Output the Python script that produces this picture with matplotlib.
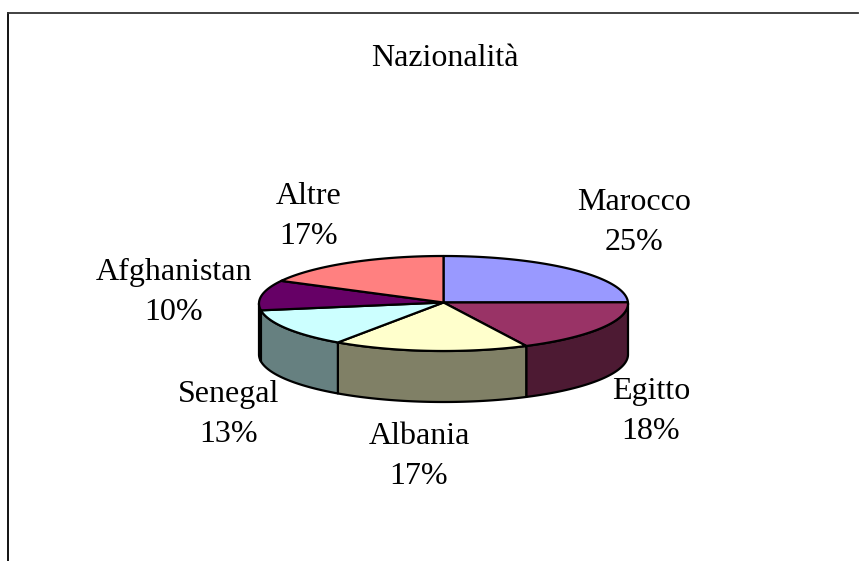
import matplotlib
matplotlib.use('Agg')
import matplotlib.pyplot as plt
from matplotlib.patches import Polygon
import numpy as np

plt.rcParams['font.family'] = ['Liberation Serif', 'DejaVu Serif']

# Data
labels = ['Marocco', 'Egitto', 'Albania', 'Senegal', 'Afghanistan', 'Altre']
values = [24.6, 18.0, 17.1, 13.0, 10.2, 17.1]
top_colors = ['#9999FF', '#993366', '#FFFFCC', '#CCFFFF', '#660066', '#FF8080']
side_colors = ['#4D4D80', '#4D1A33', '#808066', '#668080', '#330033', '#804040']
label_pos = [(634, 222), (651, 411), (419, 456), (229, 414), (174, 292), (309, 216)]

W, H = 867, 561
CX, CY = 443.5, 303.5
RX, RY = 184.5, 47.5
DEPTH = 51

fig = plt.figure(figsize=(W / 100, H / 100), dpi=100)
ax = fig.add_axes([0, 0, 1, 1])
ax.set_xlim(0, W)
ax.set_ylim(H, 0)
ax.axis('off')


def rim(t0, t1):
    # t is the fraction of the pie, clockwise from the top
    t = np.linspace(t0, t1, 120) * 2 * np.pi
    return CX + RX * np.sin(t), CY - RY * np.cos(t)


# outer frame, no right side in the original
ax.plot([7.5, 7.5], [H, 12.5], color='black', lw=1.3)
ax.plot([7.5, 858], [12.5, 12.5], color='#333333', lw=1.3)

ax.text(445, 58, 'Nazionalità', fontsize=23, ha='center', va='center')

edges = np.cumsum([0] + values) / sum(values)

# side wall: only the front half (fractions 0.25 to 0.75) shows
for i in range(len(values)):
    t0, t1 = max(edges[i], 0.25), min(edges[i + 1], 0.75)
    if t0 >= t1:
        continue
    x, y = rim(t0, t1)
    pts = np.r_[np.c_[x, y], np.c_[x[::-1], y[::-1] + DEPTH]]
    ax.add_patch(Polygon(pts, closed=True, fc=side_colors[i], ec='black', lw=1.6, joinstyle='round'))

# top face
for i in range(len(values)):
    x, y = rim(edges[i], edges[i + 1])
    pts = np.r_[[[CX, CY - 1]], np.c_[x, y]]
    ax.add_patch(Polygon(pts, closed=True, fc=top_colors[i], ec='black', lw=1.6, joinstyle='round'))

for name, v, (lx, ly) in zip(labels, values, label_pos):
    ax.text(lx, ly, f'{name}\n{v:.0f}%', fontsize=23, ha='center', va='center', linespacing=1.5)

fig.savefig('out.png', dpi=100)
